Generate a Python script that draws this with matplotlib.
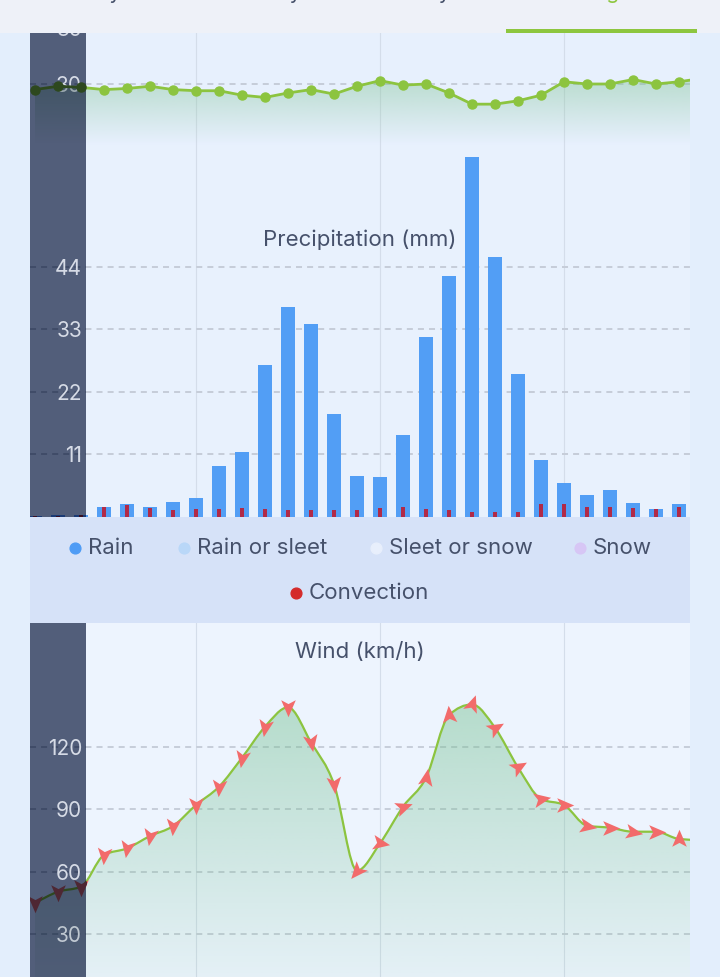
import numpy as np
import matplotlib
matplotlib.use("Agg")
import matplotlib.pyplot as plt
from matplotlib.path import Path
from matplotlib.patches import PathPatch, Rectangle
from matplotlib.markers import MarkerStyle
from matplotlib.transforms import Affine2D
from matplotlib.colors import to_rgb

plt.rcParams['font.family'] = ['Inter', 'DejaVu Sans']

# 3-hourly forecast steps (the last one sits just past the right edge)
steps = np.arange(30)
temperature = [29.5, 29.8, 29.7, 29.5, 29.6, 29.8, 29.5, 29.4, 29.4, 29.0, 28.8, 29.2, 29.5, 29.1, 29.8,
               30.3, 29.9, 30.0, 29.2, 28.2, 28.2, 28.5, 29.0, 30.2, 30.0, 30.0, 30.4, 30.0, 30.2, 30.5]
rain = [0.1, 0.3, 0.4, 1.7, 2.2, 1.8, 2.6, 3.3, 8.9, 11.4, 26.7, 37.0, 33.9, 18.1, 7.3,
        7.1, 14.4, 31.7, 42.4, 63.3, 45.8, 25.1, 10.1, 5.9, 3.8, 4.7, 2.4, 1.4, 2.3, 2.0]
convection = [0.1, 0.2, 0.3, 1.7, 2.1, 1.5, 1.2, 1.4, 1.4, 1.6, 1.4, 1.3, 1.2, 1.3, 1.3,
              1.6, 1.7, 1.4, 1.2, 0.9, 0.9, 0.9, 2.3, 2.3, 1.8, 1.7, 1.5, 1.4, 1.7, 1.5]
wind_speed = [45.0, 50.3, 52.7, 67.9, 71.1, 77.0, 81.8, 91.9, 100.7, 114.6, 129.5, 138.8, 122.0, 101.9, 60.4,
              73.5, 91.1, 105.0, 135.1, 140.2, 129.0, 110.0, 94.8, 91.9, 82.0, 81.0, 79.1, 79.1, 75.6, 75.0]
# heading of each wind arrow, degrees counter-clockwise from east
wind_dir = [-90, -90, -90, -95, -100, -100, -95, -90, -95, -100, -100, -90, -80, -85, -130,
            -10, 20, 80, 95, 70, 30, 30, 10, 0, -10, 0, -10, 0, 90, 90]

temp_ticks = [30, 35]
rain_ticks = [11, 22, 33, 44]
wind_ticks = [30, 60, 90, 120]
day_breaks = [7, 15, 23]

legend_names = ["Rain", "Rain or sleet", "Sleet or snow", "Snow", "Convection"]
legend_colors = ["#4f9cf5", "#b9d7f8", "#e8effc", "#d7c6f5", "#d42b2b"]
tabs = ["Today", "Thursday", "Friday", "Meteogram"]

W, H = 720, 977
SIDEBAR = "#525e7a"
GREEN = "#8cc43f"
BLUE = "#529ef5"
RED = "#b02a48"
ARROW = "#f26b6b"
GRID = "#c6cdd9"
TICKC = "#d6dbe6"
TEXTC = "#46516b"

side_rgb = np.array(to_rgb(SIDEBAR))


def tone(c, dark):
    # the sidebar darkens what lies under it like a multiply blend
    return tuple(np.array(to_rgb(c)) * side_rgb) if dark else c


def px_axes(x0, y0, x1, y1, **kw):
    return fig.add_axes([x0 / W, 1 - y1 / H, (x1 - x0) / W, (y1 - y0) / H], **kw)


def monotone_path(x, y):
    x = np.asarray(x, float)
    y = np.asarray(y, float)
    h = np.diff(x)
    s = np.diff(y) / h
    m = np.empty_like(y)
    m[0], m[-1] = s[0], s[-1]
    for i in range(1, len(y) - 1):
        p = (s[i - 1] * h[i] + s[i] * h[i - 1]) / (h[i - 1] + h[i])
        m[i] = (np.sign(s[i - 1]) + np.sign(s[i])) * min(abs(s[i - 1]), abs(s[i]), 0.5 * abs(p))
    verts = [(x[0], y[0])]
    codes = [Path.MOVETO]
    for i in range(len(y) - 1):
        d = h[i] / 3
        verts += [(x[i] + d, y[i] + m[i] * d), (x[i + 1] - d, y[i + 1] - m[i + 1] * d), (x[i + 1], y[i + 1])]
        codes += [Path.CURVE4] * 3
    return verts, codes


def gradient_fill(ax, verts, codes, ytop, ybot, color, a_top, a_bot):
    verts = verts + [(verts[-1][0], ybot), (verts[0][0], ybot), (0, 0)]
    codes = codes + [Path.LINETO, Path.LINETO, Path.CLOSEPOLY]
    patch = PathPatch(Path(verts, codes), transform=ax.transData, facecolor="none", edgecolor="none")
    img = np.zeros((200, 1, 4))
    img[:, 0, :3] = to_rgb(color)
    img[:, 0, 3] = np.linspace(a_top, a_bot, 200)
    im = ax.imshow(img, aspect="auto", extent=[verts[0][0], verts[-3][0], ybot, ytop],
                   origin="upper", zorder=2, interpolation="bilinear")
    im.set_clip_path(patch)


def grid_lines(ax, ticks, dark):
    for v in ticks:
        ax.axhline(v, color=tone(GRID, dark), lw=1.4, ls=(0, (3.1, 2.6)), zorder=1)
    if not dark:
        for d in day_breaks:
            ax.axvline(d, color="#d4ddea", lw=0.8, zorder=0.9)


def draw_temp(ax, dark):
    grid_lines(ax, temp_ticks, dark)
    v = list(zip(steps, temperature))
    c = [Path.MOVETO] + [Path.LINETO] * (len(v) - 1)
    gradient_fill(ax, v, c, max(temperature), 24.6, tone("#78c08c", dark), 0.42, 0.0)
    ax.plot(steps, temperature, color=tone(GREEN, dark), lw=2.0, marker="o", ms=6.5, zorder=4)


def draw_rain(ax, dark):
    grid_lines(ax, rain_ticks, dark)
    ax.bar(steps, rain, width=0.64, color=tone(BLUE, dark), zorder=3)
    ax.bar(steps, convection, width=0.16, color=tone(RED, dark), zorder=4)


DART = Path([(0, 1), (0.75, -0.75), (0, -0.35), (-0.75, -0.75), (0, 1)],
            [Path.MOVETO, Path.LINETO, Path.LINETO, Path.LINETO, Path.CLOSEPOLY])


def draw_wind(ax, dark):
    grid_lines(ax, wind_ticks, dark)
    v, c = monotone_path(steps, wind_speed)
    gradient_fill(ax, v, c, max(wind_speed), 9.4, tone("#72bf8e", dark), 0.45, 0.07)
    ax.add_patch(PathPatch(Path(v, c), facecolor="none", edgecolor=tone(GREEN, dark), lw=1.6, zorder=4))
    for x, y, a in zip(steps, wind_speed, wind_dir):
        m = MarkerStyle(DART, transform=Affine2D().rotate_deg(a - 90))
        ax.plot(x, y, marker=m, ms=14, color=tone(ARROW, dark), mec="none", zorder=5)


def panel(y0, y1, ylim, ticks, draw, face):
    main = px_axes(30, y0, 690, y1, zorder=1)
    side = px_axes(30, y0, 86, y1, zorder=2)
    main.set_facecolor(face)
    side.set_facecolor(SIDEBAR)
    draw(main, False)
    draw(side, True)
    main.set_xlim((30 - 35) / 23, (690 - 35) / 23)
    side.set_xlim((30 - 35) / 23, (86 - 35) / 23)
    for ax in (main, side):
        ax.set_ylim(*ylim)
        ax.set_xticks([])
        for sp in ax.spines.values():
            sp.set_visible(False)
    main.set_yticks([])
    side.set_yticks(ticks)
    side.tick_params(axis="y", length=0, pad=-37.4, labelcolor=TICKC, labelsize=15)
    return main


fig = plt.figure(figsize=(W / 100, H / 100), dpi=100, facecolor="#e3eefc")

panel(0, 145, (30 - 61 / 11.2, 30 + 84 / 11.2), temp_ticks, draw_temp, "#e7f0fd")
ax_rain = panel(145, 517, (0, 372 / 5.682), rain_ticks, draw_rain, "#e8f1fd")
ax_wind = panel(623, 977, (30 - 43 / 2.0833, 30 + 311 / 2.0833), wind_ticks, draw_wind, "#edf4fe")

ax_rain.text(0.5, (517 - 240) / 372, "Precipitation (mm)", transform=ax_rain.transAxes,
             ha="center", va="center", fontsize=16, color=TEXTC, zorder=6)
ax_wind.text(0.5, (977 - 652) / 354, "Wind (km/h)", transform=ax_wind.transAxes,
             ha="center", va="center", fontsize=16, color=TEXTC, zorder=6)

# legend band
leg = px_axes(30, 517, 690, 623, zorder=1)
leg.set_facecolor("#d6e2f8")
leg.set_xlim(30, 690)
leg.set_ylim(623, 517)
leg.set_xticks([])
leg.set_yticks([])
for sp in leg.spines.values():
    sp.set_visible(False)
leg_pos = [(75, 548), (184, 548), (376, 548), (580, 548), (296, 593)]
for name, col, (lx, ly) in zip(legend_names, legend_colors, leg_pos):
    leg.scatter([lx], [ly], s=60, color=col, zorder=3)
    leg.text(lx + 13, ly, name, va="center", ha="left", fontsize=16, color=TEXTC)

# tab strip at the top
fig.add_artist(Rectangle((0, 1 - 33 / H), 1, 33 / H, transform=fig.transFigure,
                         facecolor="#eef1f8", edgecolor="none", zorder=5))
fig.add_artist(Rectangle((506 / W, 1 - 33 / H), 191 / W, 4 / H, transform=fig.transFigure,
                         facecolor="#8dc63f", edgecolor="none", zorder=6))
for name, cx in zip(tabs, [90, 255, 420, 601]):
    fig.text(cx / W, 1 + 1 / H, name, ha="center", va="baseline", fontsize=15,
             color="#8dc63f" if name == tabs[-1] else TEXTC, zorder=7)

fig.savefig("out.png", dpi=100, facecolor=fig.get_facecolor())
